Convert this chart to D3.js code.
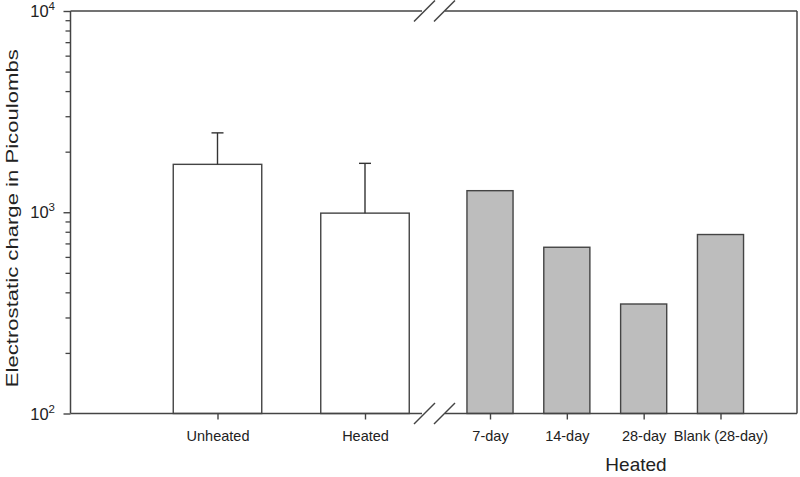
<!DOCTYPE html>
<html>
<head>
<meta charset="utf-8">
<script src="https://cdn.jsdelivr.net/npm/d3@7/dist/d3.min.js"></script>
<style>
  html, body { margin: 0; padding: 0; background: #fff; }
  svg { display: block; font-family: "Liberation Sans", Arial, sans-serif; }
</style>
</head>
<body>
<svg id="chart" width="800" height="477"></svg>
<script>
// ---- data ----
const categoriesLeft = ["Unheated", "Heated"];
const valuesLeft = [1730, 990];
const errorUpperLeft = [2480, 1750];
const categoriesRight = ["7-day", "14-day", "28-day", "Blank (28-day)"];
const valuesRight = [1280, 670, 350, 775];
const yTickValues = [100, 1000, 10000];
const yTickExponents = ["2", "3", "4"];
const yTitle = "Electrostatic charge in Picoulombs";
const xTitleRight = "Heated";

// ---- layout ----
const svg = d3.select("#chart");
const pLeft = 70.5, pRight = 797, pTop = 11, pBottom = 413.5;
const breakL = 422, breakR = 445;
const ink = "#444";
const textInk = "#222";

const y = d3.scaleLog().domain([100, 10000]).range([pBottom, pTop]);
const xL = d3.scalePoint().domain(categoriesLeft).range([217.5, 365]);
const xR = d3.scalePoint().domain(categoriesRight).range([490, 720.5]);
const bwL = xL.step() * 0.6;
const bwR = xR.step() * 0.6;

// bars left (white)
svg.append("g").selectAll("rect").data(categoriesLeft).join("rect")
  .attr("x", d => xL(d) - bwL / 2)
  .attr("y", (d, i) => y(valuesLeft[i]))
  .attr("width", bwL)
  .attr("height", (d, i) => pBottom - y(valuesLeft[i]))
  .attr("fill", "#fff").attr("stroke", ink).attr("stroke-width", 1.4);

// error bars (upper only)
const eg = svg.append("g").attr("stroke", "#333").attr("stroke-width", 1.4);
categoriesLeft.forEach((c, i) => {
  eg.append("line").attr("x1", xL(c)).attr("x2", xL(c))
    .attr("y1", y(valuesLeft[i])).attr("y2", y(errorUpperLeft[i]));
  eg.append("line").attr("x1", xL(c) - 6).attr("x2", xL(c) + 6)
    .attr("y1", y(errorUpperLeft[i])).attr("y2", y(errorUpperLeft[i]));
});

// bars right (gray)
svg.append("g").selectAll("rect").data(categoriesRight).join("rect")
  .attr("x", d => xR(d) - bwR / 2)
  .attr("y", (d, i) => y(valuesRight[i]))
  .attr("width", bwR)
  .attr("height", (d, i) => pBottom - y(valuesRight[i]))
  .attr("fill", "#bdbdbd").attr("stroke", ink).attr("stroke-width", 1.4);

// frame with breaks
const fg = svg.append("g").attr("stroke", ink).attr("stroke-width", 1.5).attr("fill", "none");
fg.append("line").attr("x1", pLeft).attr("x2", pLeft).attr("y1", pTop).attr("y2", pBottom);
fg.append("line").attr("x1", pRight).attr("x2", pRight).attr("y1", pTop).attr("y2", pBottom);
[pTop, pBottom].forEach(yy => {
  fg.append("line").attr("x1", pLeft).attr("x2", breakL).attr("y1", yy).attr("y2", yy);
  fg.append("line").attr("x1", breakR).attr("x2", pRight).attr("y1", yy).attr("y2", yy);
  [424.5, 444.5].forEach(cx => {
    fg.append("line").attr("x1", cx - 10.5).attr("x2", cx + 10.5)
      .attr("y1", yy + 10.5).attr("y2", yy - 10.5);
  });
});

// y axis ticks
const yAxis = d3.axisLeft(y).tickValues(yTickValues).tickSize(7).tickFormat("");
const ya = svg.append("g").attr("transform", `translate(${pLeft},0)`).call(yAxis);
ya.select(".domain").remove();
ya.selectAll("line").attr("stroke", ink).attr("stroke-width", 1.4);
const minor = [];
for (let e = 2; e < 4; e++) for (let m = 2; m <= 9; m++) minor.push(m * Math.pow(10, e));
const yMinor = d3.axisLeft(y).tickValues(minor).tickSize(5).tickFormat("");
const ym = svg.append("g").attr("transform", `translate(${pLeft},0)`).call(yMinor);
ym.select(".domain").remove();
ym.selectAll("line").attr("stroke", ink).attr("stroke-width", 1.3);

// y tick labels 10^n
yTickValues.forEach((v, i) => {
  const t = svg.append("text").attr("x", 55).attr("y", y(v) + 6)
    .attr("text-anchor", "end").attr("fill", textInk).style("font-size", "16.5px");
  t.append("tspan").text("10");
  t.append("tspan").attr("dy", -7).style("font-size", "11.5px").text(yTickExponents[i]);
});

// x axes
function xAxisGroup(scale) {
  const g = svg.append("g").attr("transform", `translate(0,${pBottom})`)
    .call(d3.axisBottom(scale).tickSize(6).tickPadding(11));
  g.select(".domain").remove();
  g.selectAll("line").attr("stroke", ink).attr("stroke-width", 1.4);
  g.selectAll("text").attr("fill", textInk).style("font-size", "14.5px")
    .style("font-family", "'Liberation Sans', Arial, sans-serif");
  return g;
}
xAxisGroup(xL);
xAxisGroup(xR);

// titles
svg.append("text")
  .attr("transform", `translate(18,${(pTop + pBottom) / 2 + 6}) rotate(-90)`)
  .attr("text-anchor", "middle").attr("fill", textInk)
  .style("font-size", "16.5px")
  .attr("textLength", 338).attr("lengthAdjust", "spacingAndGlyphs")
  .text(yTitle);

svg.append("text").attr("x", 636).attr("y", 470.5)
  .attr("text-anchor", "middle").attr("fill", textInk)
  .style("font-size", "19px").text(xTitleRight);
</script>
</body>
</html>
